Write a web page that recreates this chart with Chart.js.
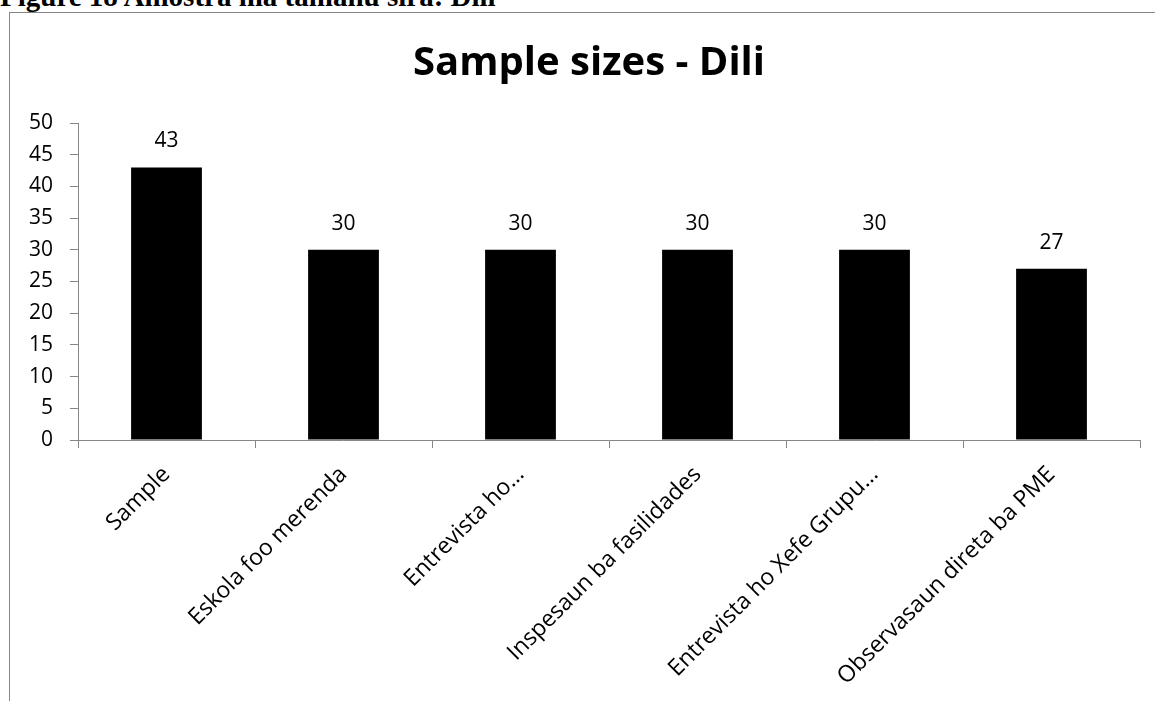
<!DOCTYPE html>
<html>
<head>
<meta charset="utf-8">
<script src="https://cdn.jsdelivr.net/npm/chart.js@4"></script>
<style>
  html, body { margin: 0; padding: 0; background: #fff; overflow: hidden; width: 1155px; height: 701px; }
  #caption {
    position: absolute; left: 0; top: -18px;
    font: bold 29px/29px "Liberation Serif", "Times New Roman", serif;
    color: #000; white-space: nowrap;
  }
  #frame {
    position: absolute; left: 9px; top: 12px;
    width: 1158px; height: 720px;
    border: 1px solid #868686;
  }
  canvas { display: block; }
</style>
</head>
<body>
<div id="caption">Figure 18 Amostra ma tamanu sira: Dili</div>
<div id="frame"><canvas id="chart" width="1158" height="720"></canvas></div>
<script>
// values
const categories = [
  'Sample',
  'Eskola foo merenda',
  'Entrevista ho…',
  'Inspesaun ba fasilidades',
  'Entrevista ho Xefe Grupu…',
  'Observasaun direta ba PME'
];
const sampleSizes = [43, 30, 30, 30, 30, 27];
const yTicks = [0, 5, 10, 15, 20, 25, 30, 35, 40, 45, 50];

const FONT = '"Open Sans", sans-serif';
const AXIS_GREY = '#868686';

// value labels above each bar
const barValueLabels = {
    id: 'barValueLabels',
    afterDatasetsDraw(chart) {
        const ctx = chart.ctx;
        const meta = chart.getDatasetMeta(0);
        ctx.save();
        ctx.font = '21px ' + FONT;
        ctx.fillStyle = '#000';
        ctx.textAlign = 'center';
        ctx.textBaseline = 'alphabetic';
        meta.data.forEach((bar, i) => {
            ctx.fillText(String(sampleSizes[i]), bar.x, bar.y - 20);
        });
        ctx.restore();
    }
};

new Chart(document.getElementById('chart'), {
    type: 'bar',
    data: {
        labels: categories,
        datasets: [{
            data: sampleSizes,
            backgroundColor: '#000',
            borderColor: '#000',
            borderWidth: 0,
            categoryPercentage: 1,
            barPercentage: 0.4
        }]
    },
    options: {
        responsive: false,
        animation: false,
        devicePixelRatio: 1,
        layout: { padding: { top: 0, left: 14, right: 14, bottom: 0 } },
        plugins: {
            legend: { display: false },
            tooltip: { enabled: false },
            title: {
                display: true,
                text: 'Sample sizes - Dili',
                color: '#000',
                font: { family: FONT, size: 40, weight: 'bold' },
                padding: { top: 27, bottom: 35 }
            }
        },
        scales: {
            x: {
                offset: true,
                grid: {
                    display: true,
                    offset: true,
                    drawOnChartArea: false,
                    drawTicks: true,
                    tickLength: 8,
                    color: AXIS_GREY,
                    lineWidth: 1
                },
                border: { display: true, color: AXIS_GREY, width: 1 },
                ticks: {
                    color: '#000',
                    font: { family: FONT, size: 23 },
                    minRotation: 45,
                    maxRotation: 45,
                    autoSkip: false,
                    padding: 13
                },
                afterFit(scale) { scale.height = 293; }
            },
            y: {
                min: 0,
                max: 50,
                afterBuildTicks(scale) {
                    scale.ticks = yTicks.map(v => ({ value: v }));
                },
                grid: {
                    display: true,
                    drawOnChartArea: false,
                    drawTicks: true,
                    tickLength: 8,
                    color: AXIS_GREY,
                    lineWidth: 1
                },
                border: { display: true, color: AXIS_GREY, width: 1 },
                ticks: {
                    color: '#000',
                    font: { family: FONT, size: 21 },
                    padding: 17
                },
                afterFit(scale) { scale.width = 54; }
            },
            // empty spacer on the right so the plot stops short of the frame
            spacer: {
                position: 'right',
                display: true,
                grid: { display: false },
                border: { display: false },
                ticks: { display: false },
                afterFit(scale) { scale.width = 14; }
            }
        }
    },
    plugins: [barValueLabels]
});
</script>
</body>
</html>
